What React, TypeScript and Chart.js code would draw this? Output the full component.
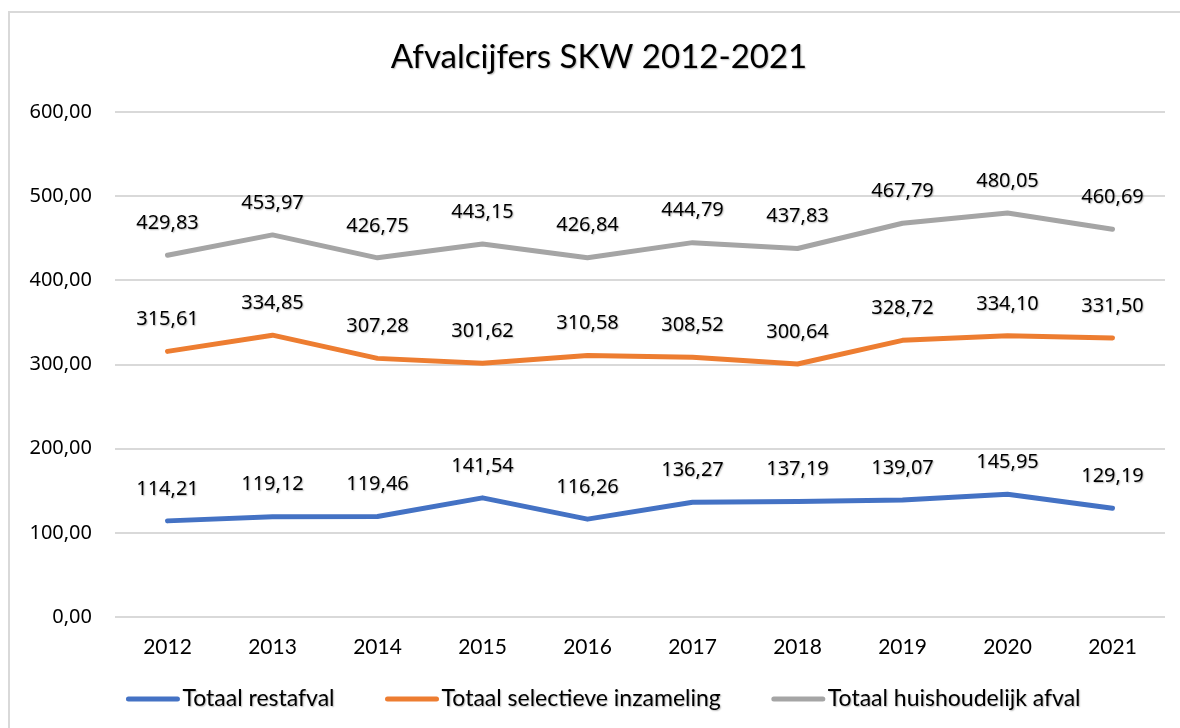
import React, { useEffect, useRef } from "react";
import { Chart, registerables } from "chart.js";

Chart.register(...registerables);

const title = "Afvalcijfers SKW 2012-2021";
const years = ["2012", "2013", "2014", "2015", "2016", "2017", "2018", "2019", "2020", "2021"];
const restafval = [114.21, 119.12, 119.46, 141.54, 116.26, 136.27, 137.19, 139.07, 145.95, 129.19];
const selectief = [315.61, 334.85, 307.28, 301.62, 310.58, 308.52, 300.64, 328.72, 334.1, 331.5];
const huishoudelijk = [429.83, 453.97, 426.75, 443.15, 426.84, 444.79, 437.83, 467.79, 480.05, 460.69];
const seriesNames = ["Totaal restafval", "Totaal selectieve inzameling", "Totaal huishoudelijk afval"];
const seriesColors = ["#4472C4", "#ED7D31", "#A5A5A5"];

const fmt = (v: number) => v.toFixed(2).replace(".", ",");

const W = 1180;
const H = 728;

const extrasPlugin = {
  id: "extras",
  afterDatasetsDraw(chart: any) {
    const ctx = chart.ctx;
    ctx.save();
    ctx.shadowColor = "rgba(0,0,0,0.28)";
    ctx.shadowOffsetX = 1;
    ctx.shadowOffsetY = 1;
    ctx.shadowBlur = 1.5;
    // data labels
    ctx.font = "20px 'Noto Sans'";
    ctx.fillStyle = "#000";
    ctx.textAlign = "center";
    ctx.textBaseline = "middle";
    chart.data.datasets.forEach((ds: any, i: number) => {
      const meta = chart.getDatasetMeta(i);
      meta.data.forEach((pt: any, j: number) => {
        ctx.fillText(fmt(ds.data[j]), pt.x, pt.y - 32);
      });
    });
    // title
    ctx.font = "33px Lato";
    ctx.fillText(title, 599, 57);
    // legend
    ctx.font = "23px Lato";
    const lineW = 55;
    const gapText = 2;
    const gapItem = 50;
    const widths = seriesNames.map((n) => ctx.measureText(n).width);
    const total = widths.reduce((a, w) => a + lineW + gapText + w, 0) + gapItem * (seriesNames.length - 1);
    let x = 603 - total / 2;
    const y = 699;
    seriesNames.forEach((n, i) => {
      ctx.save();
      ctx.shadowColor = "transparent";
      ctx.strokeStyle = seriesColors[i];
      ctx.lineWidth = 5;
      ctx.lineCap = "round";
      ctx.beginPath();
      ctx.moveTo(x + 3, y);
      ctx.lineTo(x + lineW - 3, y);
      ctx.stroke();
      ctx.restore();
      ctx.textAlign = "left";
      ctx.fillText(n, x + lineW + gapText, y);
      x += lineW + gapText + widths[i] + gapItem;
    });
    ctx.restore();
  },
};

export default function App() {
  const ref = useRef<HTMLCanvasElement | null>(null);
  useEffect(() => {
    if (!ref.current) return;
    const data = [restafval, selectief, huishoudelijk];
    const chart = new Chart(ref.current, {
      type: "line",
      data: {
        labels: years,
        datasets: data.map((d, i) => ({
          label: seriesNames[i],
          data: d,
          borderColor: seriesColors[i],
          backgroundColor: seriesColors[i],
          borderWidth: 5,
          pointRadius: 0,
          tension: 0,
          borderCapStyle: "round",
          borderJoinStyle: "round",
        })),
      },
      options: {
        animation: false,
        responsive: false,
        layout: { padding: { left: 0, right: 15, top: 112, bottom: 61 } },
        plugins: {
          legend: { display: false },
          title: { display: false },
          tooltip: { enabled: false },
        },
        scales: {
          x: {
            offset: true,
            grid: { display: false, drawTicks: false },
            border: { display: false },
            ticks: { font: { family: "Lato", size: 21 }, color: "#000", padding: 18, maxRotation: 0 },
            afterFit: (s: any) => { s.height = 50; },
          },
          y: {
            min: 0,
            max: 600,
            grid: { color: "#d9d9d9", lineWidth: 2, drawTicks: false },
            border: { display: false },
            ticks: {
              stepSize: 100,
              font: { family: "'Noto Sans'", size: 20 },
              color: "#000",
              padding: 23,
              callback: (v: any) => fmt(Number(v)),
            },
            afterFit: (s: any) => { s.width = 115; },
          },
        },
      },
      plugins: [extrasPlugin],
    } as any);
    return () => chart.destroy();
  }, []);
  return (
    <div style={{ position: "fixed", left: 0, top: 0, width: W, height: H, background: "#fff", overflow: "hidden" }}>
      <div style={{ position: "absolute", left: 8, top: 11, width: 1300, height: 900, border: "2px solid #d9d9d9", boxSizing: "border-box" }} />
      <canvas ref={ref} width={W} height={H} style={{ position: "absolute", left: 0, top: 0 }} />
    </div>
  );
}
